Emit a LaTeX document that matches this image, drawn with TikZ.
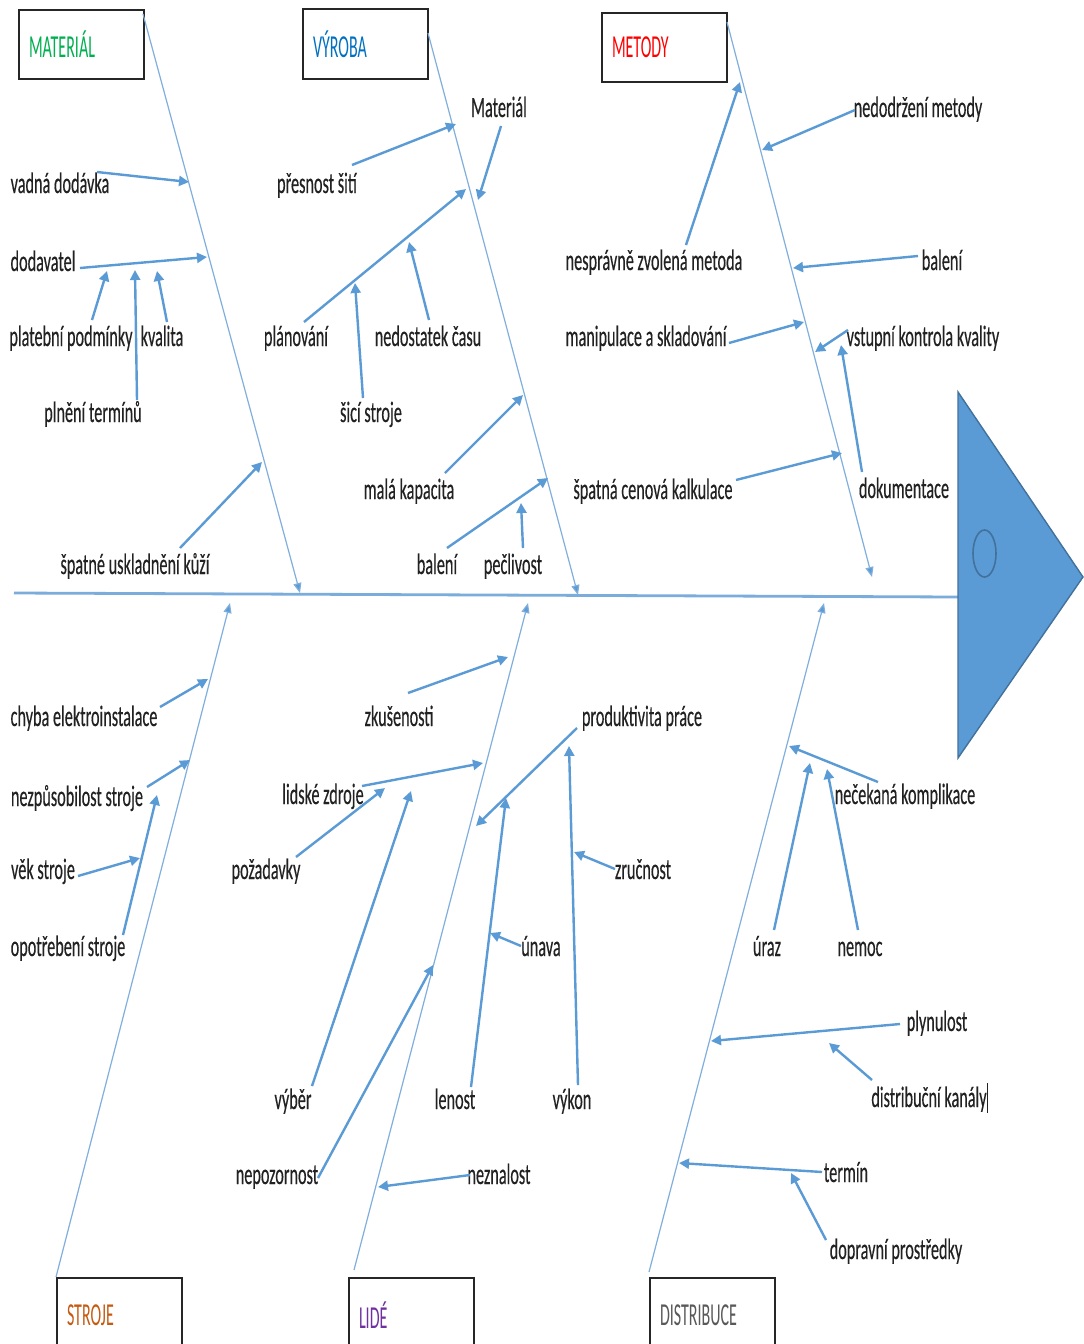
\documentclass[tikz,border=0pt]{standalone}
\usepackage{fontspec}
\setmainfont[FakeStretch=0.55,FakeBold=0.3]{Carlito}
\newfontfamily\catfont[FakeStretch=0.5]{Carlito}
\usetikzlibrary{arrows.meta}
\definecolor{arrc}{HTML}{5B9BD5}
\definecolor{ribc}{HTML}{80AFDD}
\definecolor{txtc}{HTML}{222222}
\definecolor{boxc}{HTML}{262626}
\definecolor{headc}{HTML}{5B9BD5}
\definecolor{headd}{HTML}{41719C}
\definecolor{cgreen}{HTML}{00B050}
\definecolor{cblue}{HTML}{0070C0}
\definecolor{cred}{HTML}{FF0000}
\definecolor{cbrown}{HTML}{C55A11}
\definecolor{cpurple}{HTML}{7030A0}
\definecolor{cgray}{HTML}{595959}
\begin{document}
\begin{tikzpicture}[x=0.5pt,y=-0.5pt,
  lbl/.style={inner sep=0pt, anchor=base, text=txtc, font=\fontsize{14.75}{16}\selectfont},
  arr/.style={draw=arrc, line width=1.2pt, -{Triangle[length=5pt,width=5pt]}},
  rib/.style={draw=ribc, line width=0.6pt, -{Triangle[length=5pt,width=4pt,fill=arrc]}},
  catbox/.style={draw=boxc, line width=1pt, fill=white, anchor=north west,
    minimum width=62.5pt, text width=52.5pt, inner xsep=5pt, inner ysep=0pt, align=left,
    font=\catfont\fontsize{16}{17}\selectfont}
]
\useasboundingbox (0,0) rectangle (1083,1344);
\fill[white] (0,0) rectangle (1083,1344);

% spine and head
\coordinate (sp0) at (14,593);
\coordinate (sp1) at (958,597);
\draw[ribc!85!arrc, line width=1.4pt] (sp0) -- (sp1);
\draw[fill=headc, draw=headd, line width=0.7pt] (958,392) -- (1083,577) -- (958,758) -- cycle;
\draw[headd, line width=0.8pt] (984.5,553.5) ellipse [x radius=11.5, y radius=23.5];

% category boxes
\node[catbox, minimum height=34.5pt, text=cgreen] (mat) at (18,9) {MATERIÁL};
\node[catbox, minimum height=35pt, text=cblue] (vyr) at (302,8) {VÝROBA};
\node[catbox, minimum height=34.5pt, text=cred] (met) at (601,12) {METODY};
\node[catbox, minimum height=37pt, text=cbrown] (str) at (56,1277) {STROJE};
\node[catbox, minimum height=37pt, text=cpurple] (lid) at (348,1277) {LIDÉ};
\node[catbox, minimum height=37pt, text=cgray] (dis) at (649,1277) {DISTRIBUCE};

% main ribs
\coordinate (rm0) at (143,14);   \coordinate (rm1) at (300,593);
\coordinate (rv0) at (428,33);   \coordinate (rv1) at (578,595);
\coordinate (rt0) at (727,22);   \coordinate (rt1) at (872,577);
\coordinate (rs0) at (56,1277);  \coordinate (rs1) at (230,603);
\coordinate (rl0) at (354,1270); \coordinate (rl1) at (528,603);
\coordinate (rd0) at (649,1272); \coordinate (rd1) at (824,603);
\draw[rib] (rm0) -- (rm1);
\draw[rib] (rv0) -- (rv1);
\draw[rib] (rt0) -- (rt1);
\draw[rib] (rs0) -- (rs1);
\draw[rib] (rl0) -- (rl1);
\draw[rib] (rd0) -- (rd1);

% ---------- MATERIAL ----------
\node[lbl] (ma1) at (60,193) {vadná dodávka};
\node[lbl] (ma2) at (43,271) {dodavatel};
\node[lbl] (ma3) at (71,346) {platební podmínky};
\node[lbl] (ma4) at (162,346) {kvalita};
\node[lbl] (ma5) at (93,422) {plnění termínů};
\node[lbl] (ma6) at (135,574) {špatné uskladnění kůží};
\coordinate (a1s) at (97,172);  \coordinate (a1e) at (189,182);
\coordinate (a2s) at (80,268);  \coordinate (a2e) at (207,257);
\coordinate (a3s) at (92,320);  \coordinate (a3e) at (107,271);
\coordinate (a4s) at (137,400); \coordinate (a4e) at (135,270);
\coordinate (a5s) at (167,322); \coordinate (a5e) at (157,271);
\coordinate (a6s) at (180,548); \coordinate (a6e) at (262,462);
\foreach \i in {1,...,6} {\draw[arr] (a\i s) -- (a\i e);}

% ---------- VYROBA ----------
\node[lbl] (vy1) at (499,117) {Materiál};
\node[lbl] (vy2) at (317,193) {přesnost šití};
\node[lbl] (vy3) at (296,346) {plánování};
\node[lbl] (vy4) at (428,346) {nedostatek času};
\node[lbl] (vy5) at (371,422) {šicí stroje};
\node[lbl] (vy6) at (409,499) {malá kapacita};
\node[lbl] (vy7) at (437,574) {balení};
\node[lbl] (vy8) at (513,574) {pečlivost};
\coordinate (b1s) at (501,126); \coordinate (b1e) at (478,200);
\coordinate (b2s) at (352,165); \coordinate (b2e) at (456,124);
\coordinate (b3s) at (304,322); \coordinate (b3e) at (466,189);
\coordinate (b4s) at (363,398); \coordinate (b4e) at (355,283);
\coordinate (b5s) at (429,320); \coordinate (b5e) at (409,242);
\coordinate (b6s) at (445,473); \coordinate (b6e) at (523,395);
\coordinate (b7s) at (447,548); \coordinate (b7e) at (548,478);
\coordinate (b8s) at (523,548); \coordinate (b8e) at (521,503);
\foreach \i in {1,...,8} {\draw[arr] (b\i s) -- (b\i e);}

% ---------- METODY ----------
\node[lbl] (me1) at (918,117) {nedodržení metody};
\node[lbl] (me2) at (654,270) {nesprávně zvolená metoda};
\node[lbl] (me3) at (942,270) {balení};
\node[lbl] (me4) at (646,346) {manipulace a skladování};
\node[lbl] (me5) at (923,346) {vstupní kontrola kvality};
\node[lbl] (me6) at (653,499) {špatná cenová kalkulace};
\node[lbl] (me7) at (904,498) {dokumentace};
\coordinate (c1s) at (686,245); \coordinate (c1e) at (740,82);
\coordinate (c2s) at (855,110); \coordinate (c2e) at (762,150);
\coordinate (c3s) at (918,256); \coordinate (c3e) at (793,268);
\coordinate (c4s) at (729,343); \coordinate (c4e) at (804,322);
\coordinate (c5s) at (848,330); \coordinate (c5e) at (815,352);
\coordinate (c6s) at (736,480); \coordinate (c6e) at (842,453);
\coordinate (c7s) at (862,472); \coordinate (c7e) at (841,345);
\foreach \i in {1,...,7} {\draw[arr] (c\i s) -- (c\i e);}

% ---------- STROJE ----------
\node[lbl] (st1) at (84,726) {chyba elektroinstalace};
\node[lbl] (st2) at (77,806) {nezpůsobilost stroje};
\node[lbl] (st3) at (43,879) {věk stroje};
\node[lbl] (st4) at (68,956) {opotřebení stroje};
\coordinate (d1s) at (160,707); \coordinate (d1e) at (208,679);
\coordinate (d2s) at (147,787); \coordinate (d2e) at (190,760);
\coordinate (d3s) at (78,876);  \coordinate (d3e) at (140,858);
\coordinate (d4s) at (123,935); \coordinate (d4e) at (157,795);
\foreach \i in {1,...,4} {\draw[arr] (d\i s) -- (d\i e);}

% ---------- LIDE ----------
\node[lbl] (li1) at (399,726) {zkušenosti};
\node[lbl] (li2) at (323,804) {lidské zdroje};
\node[lbl] (li3) at (266,879) {požadavky};
\node[lbl] (li4) at (642,726) {produktivita práce};
\node[lbl] (li5) at (643,879) {zručnost};
\node[lbl] (li6) at (541,956) {únava};
\node[lbl] (li7) at (293,1109) {výběr};
\node[lbl] (li8) at (455,1109) {lenost};
\node[lbl] (li9) at (572,1109) {výkon};
\node[lbl] (li10) at (277,1184) {nepozornost};
\node[lbl] (li11) at (499,1184) {neznalost};
\coordinate (e1s) at (408,693);  \coordinate (e1e) at (508,657);
\coordinate (e2s) at (362,786);  \coordinate (e2e) at (483,763);
\coordinate (e3s) at (296,857);  \coordinate (e3e) at (385,788);
\coordinate (e4s) at (312,1086); \coordinate (e4e) at (411,791);
\coordinate (e5s) at (577,728);  \coordinate (e5e) at (476,826);
\coordinate (e6s) at (471,1087); \coordinate (e6e) at (506,798);
\coordinate (e7s) at (521,946);  \coordinate (e7e) at (490,933);
\coordinate (e8s) at (615,869);  \coordinate (e8e) at (574,852);
\coordinate (e9s) at (578,1085); \coordinate (e9e) at (569,746);
\coordinate (e10s) at (318,1178); \coordinate (e10e) at (433,965);
\coordinate (e11s) at (470,1175); \coordinate (e11e) at (378,1187);
\foreach \i in {1,...,11} {\draw[arr] (e\i s) -- (e\i e);}

% ---------- DISTRIBUCE ----------
\node[lbl] (di1) at (905,804) {nečekaná komplikace};
\node[lbl] (di2) at (767,956) {úraz};
\node[lbl] (di3) at (860,956) {nemoc};
\node[lbl] (di4) at (937,1031) {plynulost};
\node[lbl] (di5) at (929,1107) {distribuční kanály};
\node[lbl] (di6) at (846,1182) {termín};
\node[lbl] (di7) at (896,1259) {dopravní prostředky};
\coordinate (f1s) at (878,782);  \coordinate (f1e) at (789,746);
\coordinate (f2s) at (774,930);  \coordinate (f2e) at (810,763);
\coordinate (f3s) at (858,930);  \coordinate (f3e) at (827,769);
\coordinate (f4s) at (900,1024); \coordinate (f4e) at (711,1041);
\coordinate (f5s) at (872,1080); \coordinate (f5e) at (829,1043);
\coordinate (f6s) at (822,1172); \coordinate (f6e) at (679,1163);
\coordinate (f7s) at (826,1240); \coordinate (f7e) at (791,1173);
\foreach \i in {1,...,7} {\draw[arr] (f\i s) -- (f\i e);}
% text cursor after "distribuční kanály"
\draw[txtc, line width=0.5pt] (987,1083) -- (987,1113);
\end{tikzpicture}
\end{document}
